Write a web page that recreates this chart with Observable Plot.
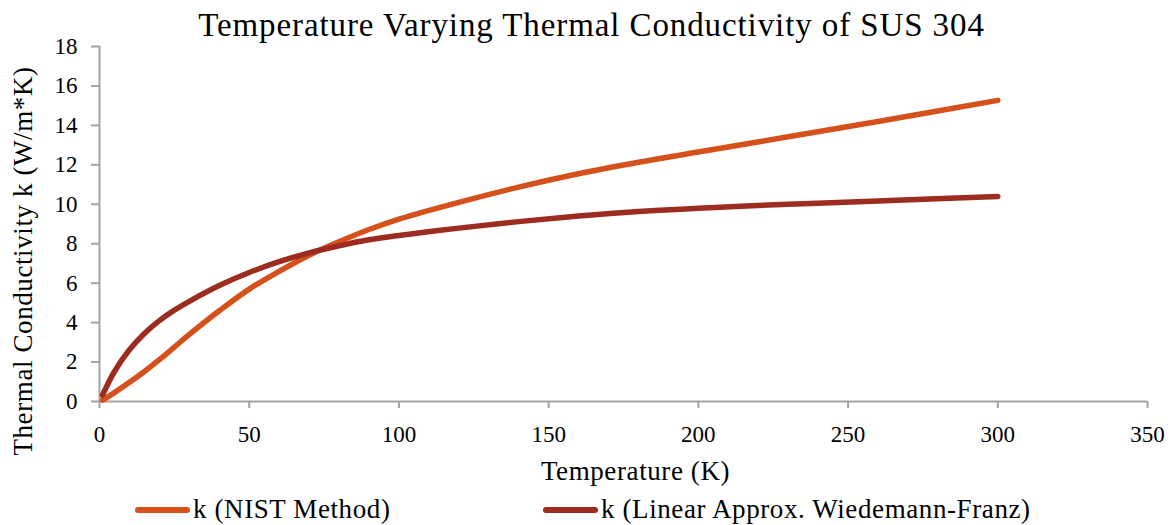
<!DOCTYPE html>
<html>
<head>
<meta charset="utf-8">
<script src="https://cdn.jsdelivr.net/npm/d3@7"></script>
<script src="https://cdn.jsdelivr.net/npm/@observablehq/plot@0.6"></script>
<style>
  html, body { margin: 0; padding: 0; background: #fff; }
  body { width: 1175px; height: 525px; overflow: hidden; font-family: "Liberation Serif", serif; color: #000; }
  #title { height: 36px; text-align: center; font-size: 33px; line-height: 50px; letter-spacing: 0.9px; white-space: nowrap; padding-left: 8px; }
  #legend { position: relative; height: 40px; font-size: 27px; letter-spacing: 0.6px; }
  .item { position: absolute; top: 9px; display: flex; align-items: center; white-space: nowrap; }
  .sw { width: 55px; height: 6px; border-radius: 3px; margin-right: 3px; }
</style>
</head>
<body>
<div id="title">Temperature Varying Thermal Conductivity of SUS 304</div>
<div id="chart"></div>
<div id="legend"></div>
<script>
const temps = [1, 5, 10, 15, 20, 25, 30, 40, 50, 60, 70, 80, 90, 100, 120, 140, 160, 180, 200, 230, 260, 300];
const kNist = [0.07, 0.45, 0.97, 1.52, 2.12, 2.76, 3.4, 4.6, 5.7, 6.6, 7.42, 8.1, 8.72, 9.25, 10.1, 10.87, 11.55, 12.13, 12.65, 13.42, 14.2, 15.27];
const kWF = [0.32, 1.52, 2.62, 3.45, 4.1, 4.63, 5.08, 5.88, 6.54, 7.09, 7.54, 7.9, 8.2, 8.42, 8.79, 9.12, 9.4, 9.63, 9.8, 10.0, 10.17, 10.4];
const seriesNames = ["k (NIST Method)", "k (Linear Approx. Wiedemann-Franz)"];
const seriesColors = ["#d6501b", "#9c2c20"];
const xTicks = [0, 50, 100, 150, 200, 250, 300, 350];
const yTicks = [0, 2, 4, 6, 8, 10, 12, 14, 16, 18];
const xTitle = "Temperature (K)";
const yTitle = "Thermal Conductivity k (W/m*K)";

const rows = [];
[kNist, kWF].forEach((vals, s) => temps.forEach((t, i) => rows.push({T: t, k: vals[i], series: seriesNames[s]})));

const axisColor = "#a3a3a3";
const chart = Plot.plot({
  width: 1175,
  height: 449,
  marginLeft: 99,
  marginRight: 28,
  marginTop: 10,
  marginBottom: 84,
  style: {fontFamily: "Liberation Serif, serif", fontSize: "22px", color: "#000", background: "#fff", overflow: "visible"},
  x: {domain: [0, 350], label: null},
  y: {domain: [0, 18], label: null},
  color: {domain: seriesNames, range: seriesColors},
  marks: [
    Plot.ruleX([0], {y1: 0, y2: 18, stroke: axisColor, strokeWidth: 2}),
    Plot.ruleY([0], {x1: 0, x2: 350, stroke: axisColor, strokeWidth: 2}),
    Plot.axisX({ticks: xTicks, tickSize: 7, tickPadding: 17, stroke: axisColor, strokeWidth: 2, strokeOpacity: 1, tickFormat: d => String(d), fill: "#000", fontSize: 23, label: null}),
    Plot.axisY({ticks: yTicks, tickSize: 8, tickPadding: 14, stroke: axisColor, strokeWidth: 2, strokeOpacity: 1, tickFormat: d => String(d), fill: "#000", fontSize: 23, label: null}),
    Plot.line(rows, {x: "T", y: "k", z: "series", stroke: "series", strokeWidth: 5.5, strokeLinecap: "round", strokeLinejoin: "round", curve: "catmull-rom"}),
    Plot.text([xTitle], {frameAnchor: "bottom", textAnchor: "middle", dx: 12, dy: 70, fontSize: 27, fill: "#000", lineAnchor: "middle"}),
    Plot.text([yTitle], {frameAnchor: "left", textAnchor: "middle", rotate: -90, dx: -76, dy: 37, fontSize: 27, fill: "#000", lineAnchor: "middle"})
  ]
});
chart.querySelectorAll("text").forEach(t => {
  if (t.textContent === yTitle || t.textContent === xTitle) t.style.letterSpacing = "0.6px";
});
document.getElementById("chart").appendChild(chart);

const legend = document.getElementById("legend");
const legendLeft = [135, 543];
seriesNames.forEach((name, i) => {
  const item = document.createElement("div");
  item.className = "item";
  item.style.left = legendLeft[i] + "px";
  const sw = document.createElement("div");
  sw.className = "sw";
  sw.style.background = seriesColors[i];
  const label = document.createElement("span");
  label.textContent = name;
  item.appendChild(sw);
  item.appendChild(label);
  legend.appendChild(item);
});
</script>
</body>
</html>
